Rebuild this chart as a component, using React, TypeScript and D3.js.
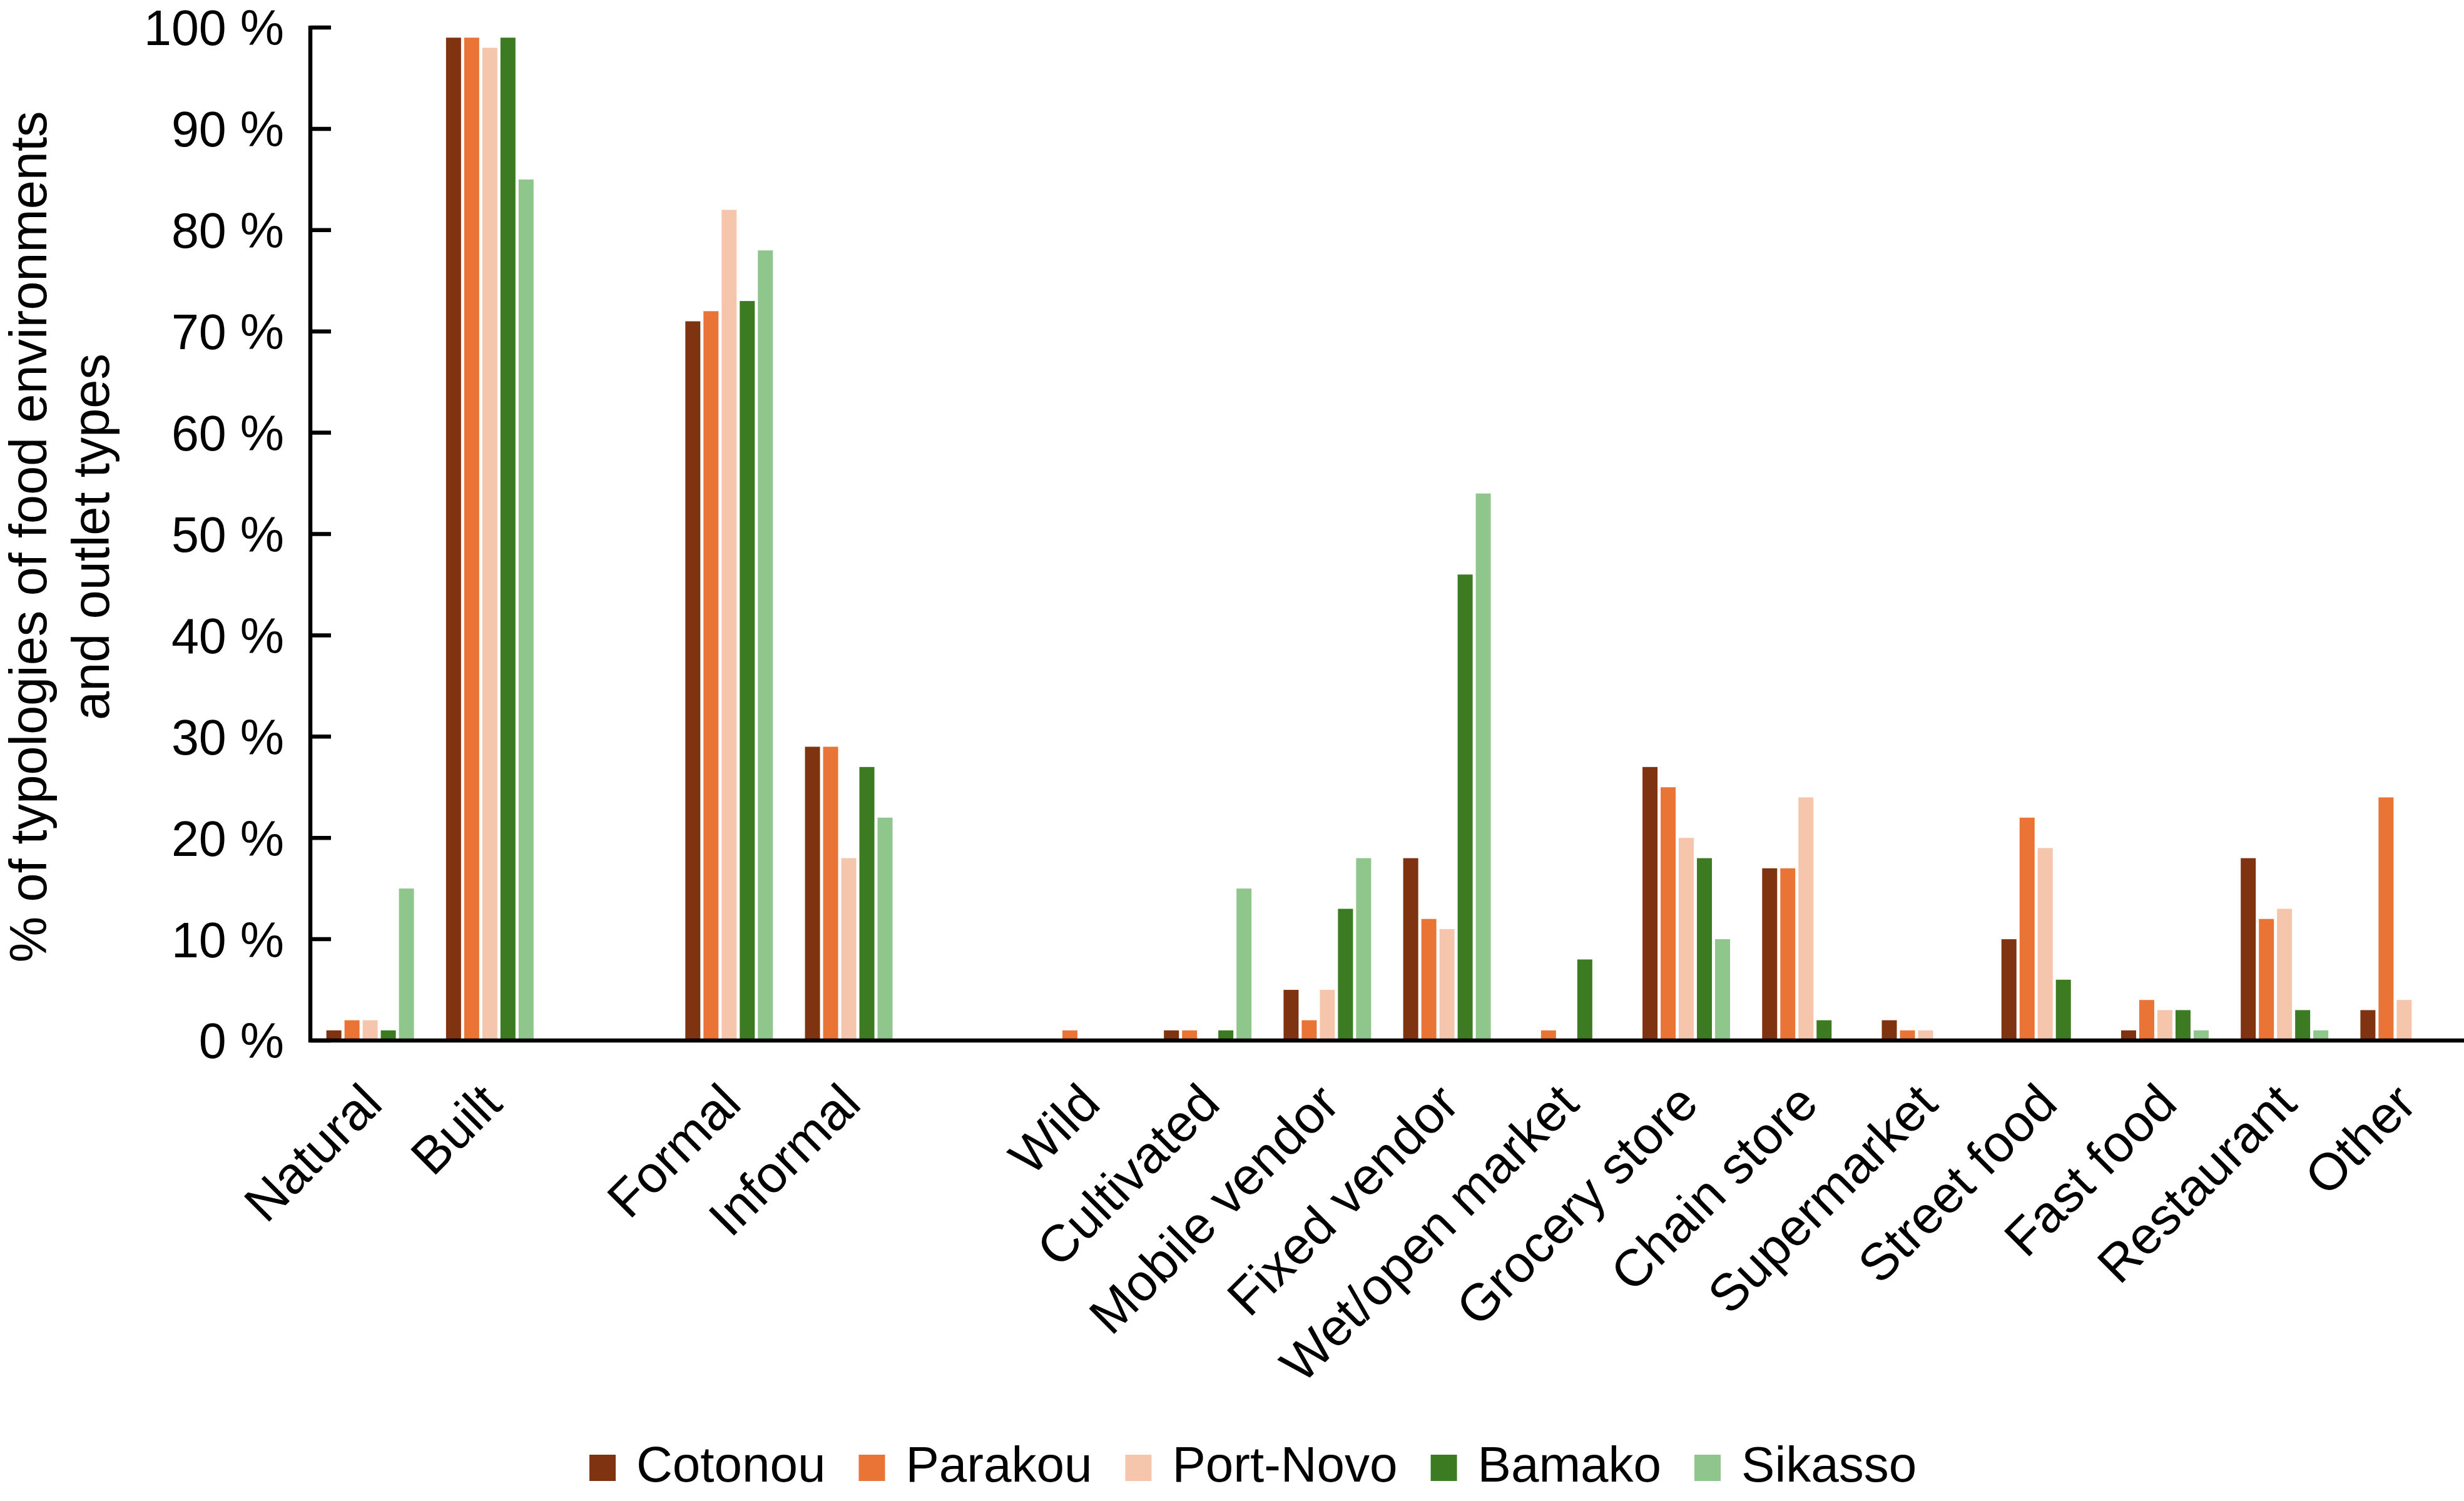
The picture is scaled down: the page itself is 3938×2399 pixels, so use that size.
import React, { useMemo } from "react";
import * as d3 from "d3";

// ---------- DATA ----------
const categories = [
  "Natural", "Built",
  "Formal", "Informal",
  "Wild", "Cultivated", "Mobile vendor", "Fixed vendor", "Wet/open market",
  "Grocery store", "Chain store", "Supermarket", "Street food", "Fast food",
  "Restaurant", "Other",
];
// an empty slot follows each of these categories
const gapAfter = ["Built", "Informal"];

const cities = ["Cotonou", "Parakou", "Port-Novo", "Bamako", "Sikasso"];

const cotonou = [1, 99, 71, 29, 0, 1, 5, 18, 0, 27, 17, 2, 10, 1, 18, 3];
const parakou = [2, 99, 72, 29, 1, 1, 2, 12, 1, 25, 17, 1, 22, 4, 12, 24];
const portNovo = [2, 98, 82, 18, 0, 0, 5, 11, 0, 20, 24, 1, 19, 3, 13, 4];
const bamako = [1, 99, 73, 27, 0, 1, 13, 46, 8, 18, 2, 0, 6, 3, 3, 0];
const sikasso = [15, 85, 78, 22, 0, 15, 18, 54, 0, 10, 0, 0, 0, 1, 1, 0];

const seriesValues = [cotonou, parakou, portNovo, bamako, sikasso];
const cityColors = ["#7f3311", "#e97436", "#f5c6ac", "#3c7b22", "#8fc68b"];

const yTicks = [0, 10, 20, 30, 40, 50, 60, 70, 80, 90, 100];
const yTitle = ["% of typologies of food environments", "and outlet types"];

// ---------- LAYOUT ----------
const W = 3938;
const H = 2399;
const FONT = "'Liberation Sans', Arial, Helvetica, sans-serif";
const plotLeft = 496;
const plotRight = 3938;
const plotTop = 44;
const plotBottom = 1663;

function measure(text: string, size: number) {
  if (typeof document === "undefined") return text.length * size * 0.5;
  const c = document.createElement("canvas");
  const ctx = c.getContext("2d");
  if (!ctx) return text.length * size * 0.5;
  ctx.font = `${size}px 'Liberation Sans', Arial, sans-serif`;
  return ctx.measureText(text).width;
}

export default function App() {
  const slots = useMemo(() => {
    const s: string[] = [];
    categories.forEach((c) => {
      s.push(c);
      if (gapAfter.includes(c)) s.push(`__gap_${c}`);
    });
    return s;
  }, []);

  const x0 = d3.scaleBand<string>().domain(slots).range([plotLeft, plotRight]).paddingInner(0).paddingOuter(0);
  const groupPad = x0.bandwidth() * 0.134;
  const x1 = d3
    .scaleBand<string>()
    .domain(cities)
    .range([groupPad, x0.bandwidth() - groupPad])
    .paddingInner(0.172)
    .paddingOuter(0);
  const y = d3.scaleLinear().domain([0, 100]).range([plotBottom, plotTop]);

  const legendFont = 80;
  const legendItems = useMemo(() => {
    let xPos = 942;
    return cities.map((c, i) => {
      const w = measure(c, legendFont);
      const item = { name: c, color: cityColors[i], x: xPos };
      xPos += 42 + 33 + w + 53;
      return item;
    });
  }, []);

  return (
    <svg
      width={W}
      height={H}
      viewBox={`0 0 ${W} ${H}`}
      style={{ position: "absolute", left: 0, top: 0, background: "#fff" }}
      fontFamily={FONT}
    >
      <rect x={0} y={0} width={W} height={H} fill="#fff" />

      {/* bars */}
      {categories.map((cat, ci) => (
        <g key={cat} transform={`translate(${x0(cat)},0)`}>
          {cities.map((city, si) => {
            const v = seriesValues[si][ci];
            if (!v) return null;
            return (
              <rect
                key={city}
                x={x1(city)}
                y={y(v)}
                width={x1.bandwidth()}
                height={y(0) - y(v)}
                fill={cityColors[si]}
              />
            );
          })}
        </g>
      ))}

      {/* y axis */}
      <line x1={plotLeft} x2={plotLeft} y1={y(100) - 3} y2={plotBottom + 3} stroke="#000" strokeWidth={6.5} />
      {yTicks.map((t) => (
        <g key={t}>
          <line x1={plotLeft} x2={plotLeft + 33} y1={y(t)} y2={y(t)} stroke="#000" strokeWidth={6.5} />
          <text
            x={plotLeft - 42}
            y={y(t)}
            dy="0.36em"
            textAnchor="end"
            fontSize={79}
            fill="#000"
          >
            {`${t} %`}
          </text>
        </g>
      ))}

      {/* x axis */}
      <line x1={plotLeft - 3} x2={plotRight} y1={plotBottom} y2={plotBottom} stroke="#000" strokeWidth={6.5} />

      {/* x labels */}
      {categories.map((cat) => {
        const cx = (x0(cat) as number) + x0.bandwidth() / 2;
        return (
          <text
            key={cat}
            transform={`translate(${cx + 2},${plotBottom + 84}) rotate(-45)`}
            textAnchor="end"
            dy="0.36em"
            fontSize={83}
            fill="#000"
          >
            {cat}
          </text>
        );
      })}

      {/* y title */}
      <g transform={`translate(0,${858}) rotate(-90)`}>
        {yTitle.map((line, i) => (
          <text key={i} x={0} y={74 + i * 100} textAnchor="middle" fontSize={83} fill="#000">
            {line}
          </text>
        ))}
      </g>

      {/* legend */}
      {legendItems.map((it) => (
        <g key={it.name}>
          <rect x={it.x} y={2325} width={42} height={42} fill={it.color} />
          <text x={it.x + 42 + 33} y={2368} fontSize={legendFont} fill="#000">
            {it.name}
          </text>
        </g>
      ))}
    </svg>
  );
}
